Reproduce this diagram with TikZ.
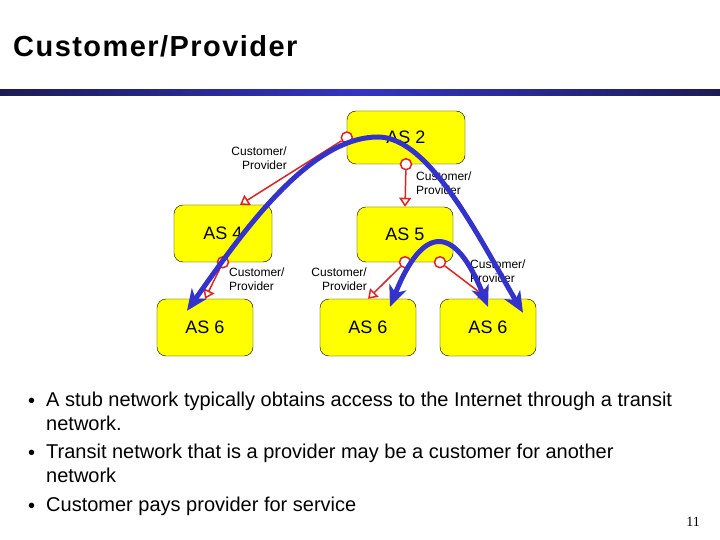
\documentclass[tikz,border=0pt]{standalone}
\usepackage{fontspec}
\setmainfont{Liberation Sans}
\newfontfamily\pagefont{Liberation Serif}
\usetikzlibrary{arrows.meta}
\definecolor{routeblue}{RGB}{51,51,204}
\definecolor{linkred}{RGB}{221,34,34}
\definecolor{asyellow}{RGB}{255,255,0}
\definecolor{bardark}{RGB}{28,28,84}
\definecolor{barblue}{RGB}{52,52,196}

\begin{document}
\begin{tikzpicture}[x=1pt,y=-1pt,as/.style={rectangle,draw=black,fill=asyellow,rounded corners=9pt,minimum width=96pt,minimum height=57pt,font=\fontsize{18}{20}\selectfont,thin},tail/.style={circle,draw=linkred,fill=white,line width=1.5pt,inner sep=0pt,minimum size=11pt},link/.style={draw=linkred,line width=1.5pt,-{Triangle[open,length=9pt,width=12pt]}},lbl/.style={font=\fontsize{12}{14}\selectfont,inner sep=0pt},route/.style={draw=routeblue,line width=5pt,{Stealth[length=21pt,width=18pt,inset=6pt]}-{Stealth[length=21pt,width=18pt,inset=6pt]}},txt/.style={font=\fontsize{20}{24}\selectfont,align=left,inner sep=0pt,anchor=north west},dot/.style={font=\fontsize{20}{24}\selectfont,inner sep=0pt,anchor=base west}]
        \useasboundingbox (0,0) rectangle (720,540);
        \node[anchor=base west,inner sep=0pt,font=\fontsize{29}{34}\selectfont\bfseries\addfontfeatures{LetterSpace=5}] (title) at (13,57) {Customer/Provider};
        \shade[left color=bardark,right color=bardark,middle color=barblue] (0,90) rectangle (720,96);

        \node[as,minimum width=118pt,minimum height=53pt] (as2) at (406,137.5) {AS 2};
        \node[as,minimum width=98pt] (as4) at (223,233.5) {AS 4};
        \node[as,minimum height=55pt] (as5) at (405,234.5) {AS 5};
        \node[as] (as6a) at (205,327.5) {AS 6};
        \node[as] (as6b) at (368,327.5) {AS 6};
        \node[as] (as6c) at (488,327.5) {AS 6};

        \node[tail] (t24) at (as2.west) {};
        \node[tail] (t25) at (as2.south) {};
        \node[tail] (t46) at (as4.south) {};
        \node[tail] (t56b) at (as5.south) {};
        \node[tail] (t56c) at ([xshift=35pt]as5.south) {};
        \draw[link] (t24) -- ([xshift=17pt]as4.north);
        \draw[link] (t25) -- (as5.north);
        \draw[link] (t46) -- (as6a.north);
        \draw[link] (t56b) -- (as6b.north);
        \draw[link] (t56c) -- (as6c.north);

        \node[lbl,align=right,anchor=east] (l24) at (287,158) {Customer/\\Provider};
        \node[lbl,align=left,anchor=west] (l25) at (416,183) {Customer/\\Provider};
        \node[lbl,align=left,anchor=west] (l46) at (229,279) {Customer/\\Provider};
        \node[lbl,align=right,anchor=east] (l56b) at (367,279) {Customer/\\Provider};
        \node[lbl,align=left,anchor=west] (l56c) at (470,271) {Customer/\\Provider};

        \draw[route] ([xshift=-18pt,yshift=-12pt]as6a.north) .. controls (240,236) and (308,137) .. (378,137) .. controls (430,137) and (480,240) .. ([xshift=35pt,yshift=-14pt]as6c.north);
        \draw[route] ([xshift=22pt,yshift=-8pt]as6b.north) .. controls (423,224) and (455,224) .. ([yshift=-8pt]as6c.north);

        \node[txt] (b1) at (46,392) {A stub network typically obtains access to the  Internet through a transit\\network.};
        \node[txt] (b2) at (46,444) {Transit network that is a provider may be a customer for another\\network};
        \node[txt] (b3) at (46,497) {Customer pays provider for service};
        \node[dot] (d1) at (28,407) {\textbullet};
        \node[dot] (d2) at (28,459) {\textbullet};
        \node[dot] (d3) at (28,512) {\textbullet};

        \node[font=\pagefont\fontsize{14}{16}\selectfont] (pg) at (693,522) {11};
    \end{tikzpicture}
\end{document}
